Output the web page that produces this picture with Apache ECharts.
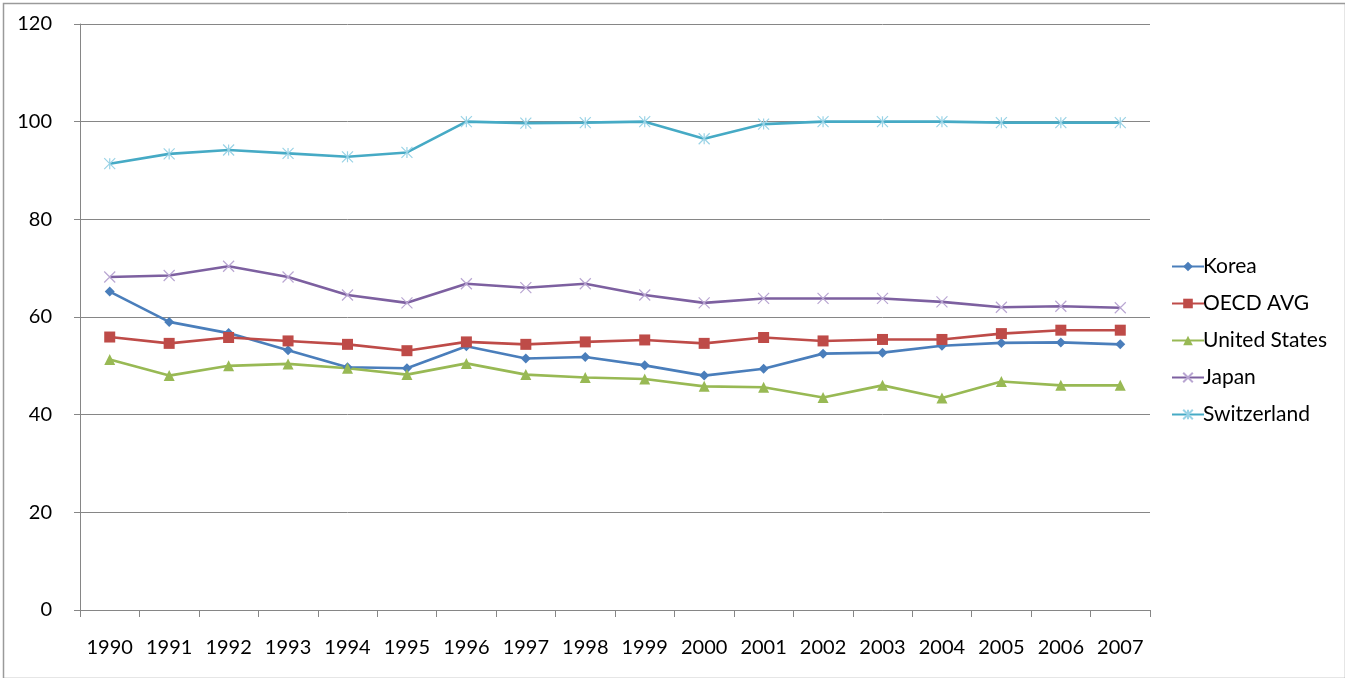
<!DOCTYPE html>
<html>
<head>
<meta charset="utf-8">
<script src="https://cdn.jsdelivr.net/npm/echarts@6/dist/echarts.min.js"></script>
<style>
html,body{margin:0;padding:0;background:#fff;}
#c{width:1345px;height:678px;}
</style>
</head>
<body>
<div id="c"></div>
<script>
var years = ['1990','1991','1992','1993','1994','1995','1996','1997','1998','1999','2000','2001','2002','2003','2004','2005','2006','2007'];
var korea = [65.2,59.0,56.7,53.2,49.7,49.5,54.0,51.5,51.8,50.1,48.0,49.4,52.5,52.7,54.1,54.7,54.8,54.4];
var oecd = [55.9,54.6,55.8,55.1,54.4,53.1,54.9,54.4,54.9,55.3,54.6,55.8,55.1,55.4,55.4,56.6,57.3,57.3];
var us = [51.3,48.0,50.0,50.4,49.5,48.2,50.5,48.2,47.6,47.3,45.8,45.6,43.5,46.0,43.4,46.8,46.0,46.0];
var japan = [68.2,68.5,70.4,68.2,64.5,62.9,66.8,66.0,66.8,64.5,62.9,63.8,63.8,63.8,63.1,62.0,62.2,61.9];
var swiss = [91.4,93.4,94.2,93.5,92.8,93.7,100.0,99.7,99.8,100.0,96.5,99.5,100.0,100.0,100.0,99.8,99.8,99.8];
var yTicks = [0,20,40,60,80,100,120];

var FONT = 'Lato, "Open Sans", sans-serif';
var xPath = 'path://M0,0L10,10M10,0L0,10';
var starPath = 'path://M0,0L10,10M10,0L0,10M5,0L5,10';

function mk(name, data, color, symbol, size, markColor, stroke) {
  return {
    name: name, type: 'line', data: data,
    symbol: symbol, symbolSize: size,
    lineStyle: {color: color, width: 2.6},
    itemStyle: stroke ? {color: 'rgba(0,0,0,0)', borderColor: markColor, borderWidth: 1.2} : {color: markColor},
    emphasis: {disabled: true},
    animation: false
  };
}

var chart = echarts.init(document.getElementById('c'), null, {renderer: 'canvas'});
chart.setOption({
  backgroundColor: '#fff',
  animation: false,
  graphic: [{
    type: 'rect', left: 1, top: 1,
    shape: {x: 0, y: 0, width: 1342, height: 675},
    style: {fill: 'none', stroke: '#9a9a9a', lineWidth: 1.5},
    silent: true
  }],
  grid: {left: 80, right: 195, top: 24, bottom: 68, containLabel: false},
  legend: {
    orient: 'vertical', left: 1166, top: 251,
    itemWidth: 32, itemHeight: 12, itemGap: 16,
    textStyle: {fontSize: 21, color: '#000', fontFamily: FONT, padding: [0,0,0,-6]},
    data: ['Korea','OECD AVG','United States','Japan','Switzerland']
  },
  xAxis: {
    type: 'category', data: years, boundaryGap: true,
    axisLine: {lineStyle: {color: '#868686', width: 1}},
    axisTick: {show: true, interval: 0, length: 7, lineStyle: {color: '#868686'}},
    axisLabel: {fontSize: 20, color: '#000', fontFamily: FONT, margin: 28, interval: 0}
  },
  yAxis: {
    type: 'value', min: 0, max: 120, interval: 20,
    axisLine: {show: true, lineStyle: {color: '#868686', width: 1}},
    axisTick: {show: true, length: 6, lineStyle: {color: '#868686'}},
    axisLabel: {fontSize: 20, color: '#000', fontFamily: FONT, margin: 28,
      formatter: function(v){ return yTicks.indexOf(v) >= 0 ? String(v) : ''; }},
    splitLine: {lineStyle: {color: '#868686', width: 1}}
  },
  series: [
    mk('Korea', korea, '#4A7EBB', 'diamond', 10, '#4A7EBB', false),
    mk('OECD AVG', oecd, '#BE4B48', 'rect', 11, '#BE4B48', false),
    mk('United States', us, '#98B954', 'triangle', 11, '#98B954', false),
    mk('Japan', japan, '#7D60A0', xPath, 11, '#B9A6D2', true),
    mk('Switzerland', swiss, '#46AAC5', starPath, 11, '#9AD3E6', true)
  ]
});
</script>
</body>
</html>
